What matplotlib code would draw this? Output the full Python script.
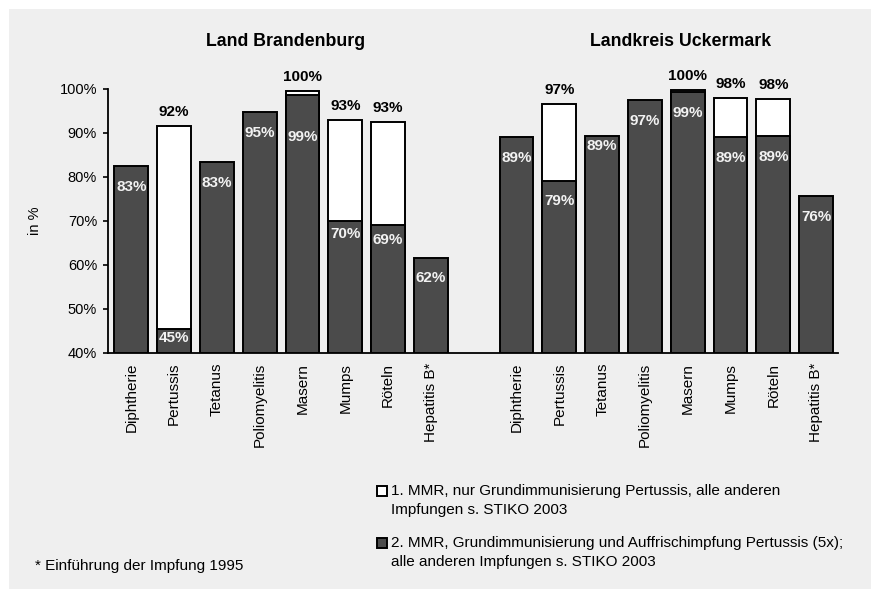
import matplotlib
matplotlib.use("Agg")
import matplotlib.pyplot as plt
from matplotlib.patches import Rectangle
from matplotlib.transforms import blended_transform_factory
import numpy as np

plt.rcParams["font.family"] = ["Liberation Sans", "DejaVu Sans"]

W, H = 871, 589

krankheiten = ["Diphtherie", "Pertussis", "Tetanus", "Poliomyelitis",
               "Masern", "Mumps", "Röteln", "Hepatitis B*"]
regionen = ["Land Brandenburg", "Landkreis Uckermark"]

# Stufe 1 (weiss, nur wo erhoben) und Stufe 2 (dunkel), in %
bb_stufe1 = [None, 91.6, None, None, 99.6, 93.0, 92.6, None]
bb_stufe2 = [82.6, 45.4, 83.3, 94.8, 98.6, 70.0, 69.2, 61.6]
um_stufe1 = [None, 96.6, None, None, 99.8, 97.9, 97.7, None]
um_stufe2 = [89.0, 79.2, 89.3, 97.4, 99.4, 89.2, 89.3, 75.7]

legende = ["1. MMR, nur Grundimmunisierung Pertussis, alle anderen\nImpfungen s. STIKO 2003",
           "2. MMR, Grundimmunisierung und Auffrischimpfung Pertussis (5x);\nalle anderen Impfungen s. STIKO 2003"]
fussnote = "* Einführung der Impfung 1995"

# Abstand der weissen Beschriftung unter der Balkenoberkante (px)
abstand_bb = [21, 9, 21, 21, 42, 13, 15, 20]
abstand_um = [21, 20, 10, 21, 21, 21, 21, 21]
# Lage der Gruppentitel (x in Balkenpositionen)
titel_x = [3.61, 12.84]

GRAU = "#efefef"
DUNKEL = "#4b4b4b"


def fx(x):
    return x / W


def fy(y):
    return 1 - y / H


fig = plt.figure(figsize=(W / 100, H / 100), dpi=100)
fig.patch.set_facecolor("white")
fig.patches.append(Rectangle((fx(9), 0), 1 - fx(9), fy(9), transform=fig.transFigure,
                             facecolor=GRAU, edgecolor="none", zorder=-10))

ax = fig.add_axes([fx(108), fy(353), fx(838) - fx(108), fy(89) - fy(353)])
ax.set_facecolor("none")

breite = 0.79
gruppen = [(0, bb_stufe1, bb_stufe2, abstand_bb), (9, um_stufe1, um_stufe2, abstand_um)]
for start, stufe1, stufe2, abstand in gruppen:
    pos = start + np.arange(len(krankheiten))
    for x, s1, s2, d in zip(pos, stufe1, stufe2, abstand):
        if s1 is not None:
            ax.bar(x, s1 - 40, bottom=40, width=breite, color="white",
                   edgecolor="black", linewidth=1.4, zorder=2)
            ax.annotate(f"{s1:.0f}%", (x, s1), xytext=(0, 10), textcoords="offset points",
                        ha="center", va="center", fontsize=11, fontweight="bold",
                        annotation_clip=False)
        ax.bar(x, s2 - 40, bottom=40, width=breite, color=DUNKEL,
               edgecolor="black", linewidth=1.4, zorder=3)
        ax.annotate(f"{s2:.0f}%", (x, s2), xytext=(0, -d * 0.72), textcoords="offset points",
                    ha="center", va="center", fontsize=11, fontweight="bold",
                    color="#f2f2f2", zorder=4)

ax.set_ylim(40, 100)
ax.set_xlim(-0.544, 16.51)
ax.set_yticks(range(40, 101, 10))
ax.set_yticklabels([f"{t}%" for t in range(40, 101, 10)], fontsize=10.5)
ax.tick_params(axis="y", length=3.6, width=1.2, pad=4.3)

xpos = list(range(8)) + list(range(9, 17))
ax.set_xticks(xpos)
ax.set_xticklabels(krankheiten * 2, rotation=90, fontsize=11)
ax.tick_params(axis="x", length=0, pad=7)

for s in ["top", "right"]:
    ax.spines[s].set_visible(False)
for s in ["left", "bottom"]:
    ax.spines[s].set_linewidth(1.3)

ax.set_ylabel("in %", fontsize=10.5)
ax.yaxis.set_label_coords(-0.0908, 0.5)

trans = blended_transform_factory(ax.transData, fig.transFigure)
for tx, name in zip(titel_x, regionen):
    ax.text(tx, fy(41), name, transform=trans, ha="center", va="center",
            fontsize=12.8, fontweight="bold")

# Legende unten rechts
for y, farbe, text in zip([491, 543], ["white", DUNKEL], legende):
    fig.patches.append(Rectangle((fx(377), fy(y + 5)), fx(10), 10 / H, transform=fig.transFigure,
                                 facecolor=farbe, edgecolor="black", linewidth=1.4))
    for i, zeile in enumerate(text.split("\n")):
        fig.text(fx(391), fy(y + i * 19), zeile, ha="left", va="center", fontsize=11)

fig.text(fx(35), fy(566), fussnote, ha="left", va="center", fontsize=11)

fig.savefig("out.png", dpi=100)
